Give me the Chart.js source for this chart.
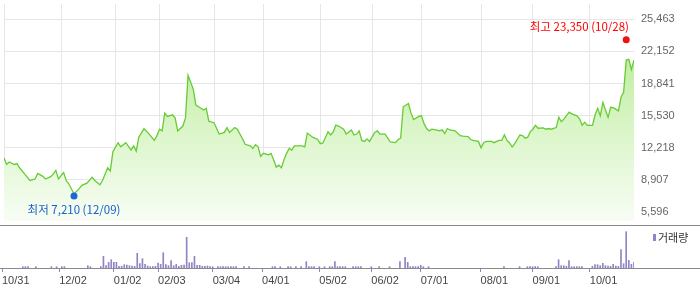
<!DOCTYPE html>
<html><head><meta charset="utf-8">
<script src="https://cdn.jsdelivr.net/npm/chart.js@4/dist/chart.umd.min.js"></script>
<style>
html,body{margin:0;padding:0;background:#fff;width:700px;height:289px;overflow:hidden;}
#wrap{position:relative;width:700px;height:289px;}
#pc{position:absolute;left:0;top:0;}
#vc{position:absolute;left:0;top:226px;}
.hl{position:absolute;left:0;width:700px;height:1px;background:#8a8a8a;}
#lgsw{position:absolute;left:653px;top:234px;width:3px;height:7px;background:#9282c6;}
#lgtx{position:absolute;left:658px;top:230px;height:15px;line-height:15px;font-size:11px;font-family:"Noto Sans CJK KR",sans-serif;color:#333;}
</style></head>
<body><div id="wrap">
<canvas id="pc" width="700" height="225"></canvas>
<div class="hl" style="top:225px"></div>
<canvas id="vc" width="700" height="63"></canvas>
<div class="hl" style="top:268px"></div>
<div id="lgsw"></div><div id="lgtx">거래량</div>
</div>
<script>
// ---- data ----
const tickDay   = [0, 22, 43, 60, 81, 100, 122, 142, 161, 184, 204, 226];
const tickLabel = ['10/31','12/02','01/02','02/03','03/04','04/01','05/02','06/02','07/01','08/01','09/01','10/01'];
const priceTicks = [5596, 8907, 12218, 15530, 18841, 22152, 25463];

const priceDay = [0,1,2,4,5,6,8,10,12,13,15,16,18,19,20,21,23,24,25,27,
  29,30,32,34,35,37,38,40,41,42,44,45,47,49,50,51,52,54,56,58,
  59,60,61,62,63,65,66,67,69,70,71,73,74,76,77,78,79,81,83,85,
  86,87,89,90,92,93,95,96,97,98,99,100,102,103,104,105,106,107,108,109,
  110,111,112,115,116,117,119,121,122,123,125,126,127,128,129,131,132,134,135,136,
  137,138,139,140,141,143,144,145,147,149,151,152,153,154,156,157,158,160,161,162,
  163,164,165,167,168,169,170,171,172,174,176,177,179,180,181,183,184,185,186,188,
  189,190,191,192,193,194,195,196,197,199,200,201,202,203,204,205,206,208,209,210,
  211,213,214,215,216,218,219,221,222,223,224,225,227,228,229,230,231,232,233,234,
  235,237,238,239,240,241,242,243];
const closePrice = [11140,10480,10740,10480,10570,10140,9480,8820,8980,9550,9250,8980,9220,9480,9870,8980,9640,8820,8480,7430,
  7980,8320,8550,9150,8820,8380,8820,10140,9810,11800,12730,12300,12730,11960,12400,11860,13300,14190,13620,12960,
  13460,14120,13950,15780,15440,15610,15290,13950,14450,15290,19690,18270,16610,16280,16110,16280,14950,14790,13620,13790,
  14290,13790,14290,14120,13130,12560,12400,12130,12530,12300,11310,11630,11470,11630,10970,10210,10410,10140,10970,11630,
  12130,11960,12400,12400,12300,13720,13300,13060,12630,12700,13850,13520,13850,14550,14450,14120,13620,14050,13520,13620,
  13950,12960,12860,13130,12860,13790,13950,13620,13620,12800,12730,13060,13200,16440,16780,15780,15120,15440,15510,14720,
  14190,13950,14120,14020,13950,14050,13670,14190,14040,13950,13460,13400,13360,13060,12960,12860,12200,12730,12860,12860,
  12730,12860,12960,12960,13550,12960,12700,12300,12630,13520,13460,13200,13300,13870,14120,14520,14220,14250,14120,14190,
  14120,14290,15350,14890,15190,15880,15710,15510,15190,14520,14850,14520,14520,15610,16280,15510,16880,16110,15350,16380,
  16340,16010,17430,17930,21260,21350,20290,21260];

const volDay = [8,9,10,13,19,21,23,24,33,34,38,39,40,41,42,43,44,45,46,47,
  48,49,50,51,52,53,54,55,56,57,58,59,60,61,62,63,64,65,66,67,
  68,69,70,71,72,73,74,75,76,77,78,79,80,81,83,84,85,86,87,88,
  89,90,93,95,104,105,107,110,111,113,115,117,118,119,120,122,124,126,127,128,
  129,130,131,132,135,136,137,138,142,145,149,153,155,156,157,158,159,160,161,162,
  164,193,199,202,203,204,205,206,213,214,215,216,217,218,219,220,221,222,223,227,
  228,229,230,231,232,233,234,235,236,237,238,239,240,241,242,243];
const volume = [13,13,13,13,13,13,13,13,23,13,13,117,23,57,83,57,57,17,17,33,
  30,23,20,17,147,43,93,37,20,13,13,17,50,37,153,33,23,73,23,37,
  17,27,30,307,53,53,117,27,27,17,17,20,13,13,13,13,13,13,13,13,
  13,13,13,13,13,13,13,13,13,13,13,63,13,13,13,13,13,13,13,63,
  13,13,13,13,13,13,13,13,13,13,13,63,107,57,13,13,13,13,27,13,
  13,13,13,13,13,13,13,13,13,83,23,23,17,73,13,13,13,13,13,17,
  33,33,23,47,23,20,17,37,20,17,183,43,363,77,37,57];

const markerName  = ['최저', '최고'];
const markerDay   = [27, 240];
const markerValue = [7210, 23350];
const markerDate  = ['12/09', '10/28'];
const markerColor = ['#1f66d6', '#ee1111'];
const markerText  = ['#1a5fcc', '#ff0000'];

// ---- charts ----
const AXIS_FONT = {family: '"Liberation Sans", Arial, sans-serif', size: 11};

const markerLabels = {
  id: 'markerLabels',
  afterDatasetsDraw(chart) {
    const ctx = chart.ctx, area = chart.chartArea;
    ctx.save();
    ctx.font = '11.5px "Noto Sans CJK KR", sans-serif';
    ctx.textBaseline = 'middle';
    ctx.textAlign = 'center';
    markerName.forEach((nm, i) => {
      const pt = chart.getDatasetMeta(1 + i).data[0];
      if (!pt) return;
      const txt = nm + ' ' + markerValue[i].toLocaleString('en-US') + ' (' + markerDate[i] + ')';
      const w = ctx.measureText(txt).width;
      let cx = Math.min(pt.x, area.right - 5 - w / 2);
      cx = Math.max(cx, area.left + w / 2);
      const dy = i === 0 ? 13.5 : -13;
      ctx.fillStyle = markerText[i];
      ctx.fillText(txt, cx, pt.y + dy);
    });
    ctx.restore();
  }
};

new Chart(document.getElementById('pc'), {
  type: 'line',
  data: {
    datasets: [
      {
        data: priceDay.map((d, i) => ({x: d, y: closePrice[i]})),
        borderColor: '#66cc33', borderWidth: 1.3, pointRadius: 0, tension: 0,
        fill: 'start',
        backgroundColor: (c) => {
          const a = c.chart.chartArea;
          if (!a) return 'rgba(0,0,0,0)';
          const g = c.chart.ctx.createLinearGradient(0, a.top + 50, 0, a.bottom);
          g.addColorStop(0, '#c0eda0');
          g.addColorStop(0.5, '#ddf6cc');
          g.addColorStop(1, '#f8fdf5');
          return g;
        },
        order: 3
      },
      ...markerName.map((nm, i) => ({
        type: 'scatter',
        data: [{x: markerDay[i], y: markerValue[i]}],
        pointRadius: 3.5, pointBackgroundColor: markerColor[i], pointBorderWidth: 0,
        order: 1
      }))
    ]
  },
  options: {
    responsive: false, animation: false, devicePixelRatio: 1,
    layout: {padding: {left: 2, right: 0, top: 0, bottom: 0}},
    plugins: {legend: {display: false}, tooltip: {enabled: false}},
    scales: {
      x: {
        type: 'linear', min: 0, max: 243,
        afterBuildTicks: s => { s.ticks = tickDay.map(v => ({value: v})); },
        ticks: {display: false},
        grid: {color: '#e6e6e6', drawTicks: false},
        border: {display: false},
        afterFit: s => { s.height = 0; s.paddingLeft = 0; s.paddingRight = 0; }
      },
      y: {
        position: 'right', min: 4640, max: 27055,
        afterBuildTicks: s => { s.ticks = priceTicks.map(v => ({value: v})); },
        ticks: {color: '#666', font: AXIS_FONT, padding: 7, autoSkip: false,
                callback: v => Number(v).toLocaleString('en-US')},
        grid: {color: '#e6e6e6', drawTicks: false},
        border: {display: false},
        afterFit: s => { s.width = 66; s.paddingTop = 0; s.paddingBottom = 0; }
      }
    }
  },
  plugins: [markerLabels]
});

new Chart(document.getElementById('vc'), {
  type: 'bar',
  data: {
    datasets: [{
      data: volDay.map((d, i) => ({x: d, y: volume[i]})),
      backgroundColor: '#9282c6', borderWidth: 0, barThickness: 1
    }]
  },
  options: {
    responsive: false, animation: false, devicePixelRatio: 1,
    layout: {padding: {left: 2, right: 66, top: 0, bottom: 0}},
    plugins: {legend: {display: false}, tooltip: {enabled: false}},
    scales: {
      x: {
        type: 'linear', min: 0, max: 243, offset: false,
        afterBuildTicks: s => { s.ticks = tickDay.map(v => ({value: v})); },
        ticks: {align: 'start', color: '#444', font: AXIS_FONT, padding: 2,
                autoSkip: false, maxRotation: 0,
                callback: (v, i) => tickLabel[i]},
        grid: {drawOnChartArea: false, drawTicks: true, tickLength: 4, color: '#9282c6', offset: false},
        border: {display: false},
        afterFit: s => { s.height = 21; s.paddingLeft = 0; s.paddingRight = 0; }
      },
      y: {display: false, min: 0, max: 420}
    }
  }
});
</script>
</body></html>
